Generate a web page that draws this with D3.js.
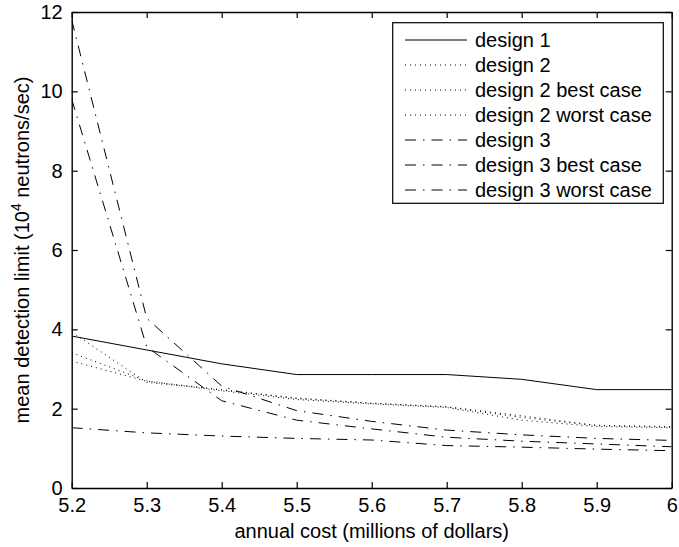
<!DOCTYPE html>
<html>
<head>
<meta charset="utf-8">
<script src="https://cdn.jsdelivr.net/npm/d3@7"></script>
<style>
  body { margin: 0; background: #fff; }
  #graf text { font-family: "Liberation Sans", Arial, sans-serif; fill: #000; }
</style>
</head>
<body>
<div id="graf"></div>
<script>
const costs = [5.2, 5.3, 5.4, 5.5, 5.6, 5.7, 5.8, 5.9, 6.0]

const design1 = [3.83, 3.48, 3.13, 2.86, 2.86, 2.86, 2.74, 2.48, 2.48]
const design2 = [3.41, 2.70, 2.47, 2.25, 2.13, 2.04, 1.78, 1.57, 1.53]
const design2Best = [3.20, 2.69, 2.45, 2.23, 2.12, 2.03, 1.71, 1.55, 1.52]
const design2Worst = [3.93, 2.66, 2.48, 2.27, 2.14, 2.05, 1.82, 1.58, 1.55]
const design3 = [11.8, 4.28, 2.57, 1.95, 1.68, 1.46, 1.34, 1.25, 1.20]
const design3Best = [9.8, 3.56, 2.20, 1.71, 1.49, 1.28, 1.18, 1.11, 1.04]
const design3Worst = [1.52, 1.39, 1.31, 1.25, 1.21, 1.07, 1.03, 0.98, 0.94]

const xTicks = [5.2, 5.3, 5.4, 5.5, 5.6, 5.7, 5.8, 5.9, 6]
const xTickLabels = ['5.2', '5.3', '5.4', '5.5', '5.6', '5.7', '5.8', '5.9', '6']
const yTicks = [0, 2, 4, 6, 8, 10, 12]

const seriesNames = ['design 1', 'design 2', 'design 2 best case', 'design 2 worst case',
    'design 3', 'design 3 best case', 'design 3 worst case']
const seriesValues = [design1, design2, design2Best, design2Worst, design3, design3Best, design3Worst]

// line styles like matlab: '-', ':', '-.'
const estilos = ['none', '1,4', '1,4', '1,4', '11,7,1.5,7', '11,7,1.5,7', '11,7,1.5,7']

const anchoTotal = 679
const altoTotal = 547
const margen = { left: 71.7, right: 7.3, top: 12, bottom: 59 }
const fuente = '20px'

const svg = d3.select('#graf').append('svg')
    .attr('width', anchoTotal)
    .attr('height', altoTotal)

const x = d3.scaleLinear().domain([5.2, 6]).range([margen.left, anchoTotal - margen.right])
const y = d3.scaleLinear().domain([0, 12]).range([altoTotal - margen.bottom, margen.top])

svg.append('clipPath').attr('id', 'clip')
    .append('rect')
    .attr('x', x(5.2)).attr('y', y(12))
    .attr('width', x(6) - x(5.2)).attr('height', y(0) - y(12))

const linea = d3.line()
    .x((d, i) => x(costs[i]))
    .y(d => y(d))

const series = seriesNames.map((nombre, i) => ({ nombre, valores: seriesValues[i], dash: estilos[i] }))

svg.append('g').attr('clip-path', 'url(#clip)')
    .selectAll('path')
    .data(series)
    .enter()
    .append('path')
    .attr('d', d => linea(d.valores))
    .attr('fill', 'none')
    .attr('stroke', '#000')
    .attr('stroke-width', 1)
    .attr('stroke-dasharray', d => d.dash)

// axes, ticks inside on all four sides
const tick = 6
svg.append('g')
    .attr('transform', `translate(0,${y(0)})`)
    .call(d3.axisBottom(x).tickValues(xTicks).tickFormat((d, i) => xTickLabels[i]).tickSizeInner(-tick).tickSizeOuter(0).tickPadding(10))
svg.append('g')
    .attr('transform', `translate(0,${y(12)})`)
    .call(d3.axisTop(x).tickValues(xTicks).tickFormat('').tickSizeInner(-tick).tickSizeOuter(0))
svg.append('g')
    .attr('transform', `translate(${x(5.2)},0)`)
    .call(d3.axisLeft(y).tickValues(yTicks).tickFormat(d3.format('d')).tickSizeInner(-tick).tickSizeOuter(0).tickPadding(9))
svg.append('g')
    .attr('transform', `translate(${x(6)},0)`)
    .call(d3.axisRight(y).tickValues(yTicks).tickFormat('').tickSizeInner(-tick).tickSizeOuter(0))

svg.selectAll('.domain').attr('stroke', '#000').attr('stroke-width', 1.4)
svg.selectAll('.tick line').attr('stroke', '#000').attr('stroke-width', 1.2)
svg.selectAll('.tick text').style('font-size', fuente)

svg.append('text')
    .attr('x', (x(5.2) + x(6)) / 2)
    .attr('y', 538)
    .attr('text-anchor', 'middle')
    .style('font-size', fuente)
    .text('annual cost (millions of dollars)')

const yLabel = svg.append('text')
    .attr('transform', `translate(29,${(y(0) + y(12)) / 2}) rotate(-90)`)
    .attr('text-anchor', 'middle')
    .style('font-size', fuente)
yLabel.append('tspan').text('mean detection limit (10')
yLabel.append('tspan').attr('dy', -8).style('font-size', '14px').text('4')
yLabel.append('tspan').attr('dy', 8).text(' neutrons/sec)')

// legend
const leg = svg.append('g')
leg.append('rect')
    .attr('x', 392.7).attr('y', 22.7)
    .attr('width', 270.6).attr('height', 180.6)
    .attr('fill', '#fff')
    .attr('stroke', '#000')
    .attr('stroke-width', 1.2)

const filas = leg.selectAll('g.fila')
    .data(series)
    .enter()
    .append('g')
    .attr('class', 'fila')
    .attr('transform', (d, i) => `translate(0,${40 + i * 25})`)

filas.append('line')
    .attr('x1', 405).attr('x2', 467)
    .attr('stroke', '#000')
    .attr('stroke-width', 1)
    .attr('stroke-dasharray', d => d.dash)

filas.append('text')
    .attr('x', 475)
    .attr('dy', '0.35em')
    .style('font-size', fuente)
    .text(d => d.nombre)
</script>
</body>
</html>
